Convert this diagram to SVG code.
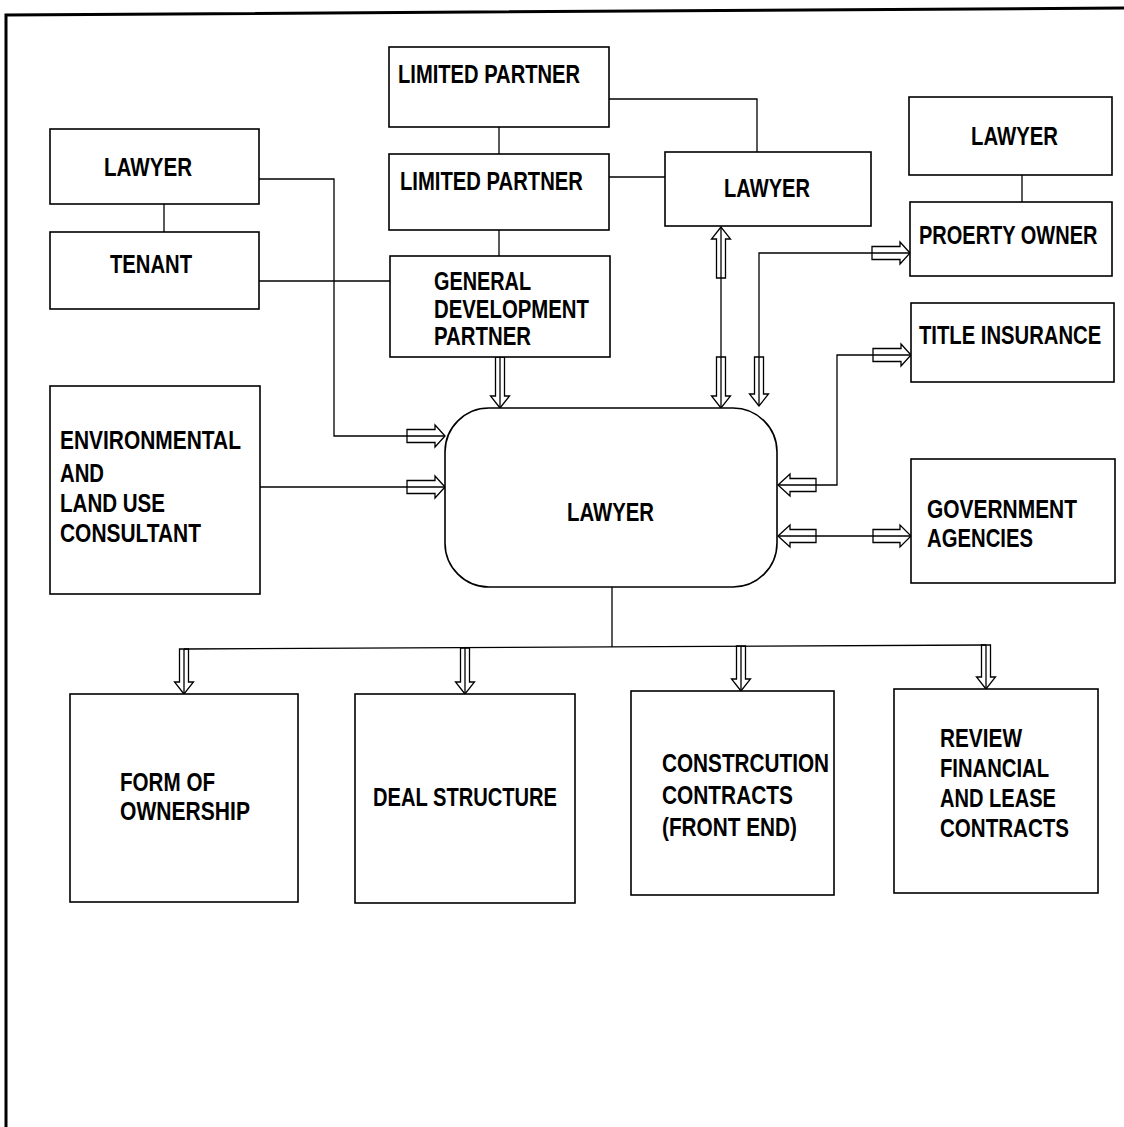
<svg xmlns="http://www.w3.org/2000/svg" width="1124" height="1127" viewBox="0 0 1124 1127">
<style>
.box{fill:#fff;stroke:#000;stroke-width:1.6}
.ln{fill:none;stroke:#000;stroke-width:1.3}
.ar{fill:none;stroke:#000;stroke-width:1.3;stroke-linejoin:miter}
.t{font-family:"Liberation Sans Narrow","Liberation Sans",Arial,sans-serif;font-weight:700;font-size:25px;fill:#000}
</style>
<rect width="1124" height="1127" fill="#fff"/>
<path d="M6,1127 L6,15 L1124,8" fill="none" stroke="#000" stroke-width="3"/>

<g id="connectors">
<path class="ln" d="M499,127 V154"/>
<path class="ln" d="M499,230 V256"/>
<path class="ln" d="M609,99 H757 V152"/>
<path class="ln" d="M609,177 H665"/>
<path class="ln" d="M164,204 V232"/>
<path class="ln" d="M259,179 H334 V436 H445"/>
<path class="ln" d="M259,281 H390"/>
<path class="ln" d="M259,487 H445"/>
<path class="ln" d="M721,227 V408"/>
<path class="ln" d="M910,253 H759 V406"/>
<path class="ln" d="M1022,175 V202"/>
<path class="ln" d="M911,355 H837 V485 H778"/>
<path class="ln" d="M778,536 H911"/>
<path class="ln" d="M500,357 V408"/>
<path class="ln" d="M612,587 V647"/>
<path class="ln" d="M184,649 L986,645"/>
<path class="ln" d="M184,649 V694 M465,648 V694 M741,646 V691 M986,645 V689"/>
<polygon class="ar" points="445,436 435,425 435,429.5 407,429.5 407,442.5 435,442.5 435,447"/>
<polygon class="ar" points="445,487 435,476 435,480.5 407,480.5 407,493.5 435,493.5 435,498"/>
<polygon class="ar" points="910,253 900,242 900,246.5 872,246.5 872,259.5 900,259.5 900,264"/>
<polygon class="ar" points="911,355 901,344 901,348.5 873,348.5 873,361.5 901,361.5 901,366"/>
<polygon class="ar" points="778,485 790,474 790,478.5 816,478.5 816,491.5 790,491.5 790,496"/>
<polygon class="ar" points="778,536 790,525 790,529.5 816,529.5 816,542.5 790,542.5 790,547"/>
<polygon class="ar" points="911,536 900,525 900,529.5 873,529.5 873,542.5 900,542.5 900,547"/>
<polygon class="ar" points="500,408 490.5,396 495.5,396 495.5,357 504.5,357 504.5,396 509.5,396"/>
<polygon class="ar" points="721,227 711.5,239 716.5,239 716.5,278 725.5,278 725.5,239 730.5,239"/>
<polygon class="ar" points="721,408 711.5,396 716.5,396 716.5,357 725.5,357 725.5,396 730.5,396"/>
<polygon class="ar" points="759,406 749.5,394 754.5,394 754.5,357 763.5,357 763.5,394 768.5,394"/>
<polygon class="ar" points="184,694 174.5,682 179.5,682 179.5,649 188.5,649 188.5,682 193.5,682"/>
<polygon class="ar" points="465,694 455.5,682 460.5,682 460.5,648 469.5,648 469.5,682 474.5,682"/>
<polygon class="ar" points="741,691 731.5,679 736.5,679 736.5,646 745.5,646 745.5,679 750.5,679"/>
<polygon class="ar" points="986,689 976.5,677 981.5,677 981.5,645 990.5,645 990.5,677 995.5,677"/>
</g>

<g id="limited-partner-1">
<rect class="box" x="389" y="47" width="220" height="80"/>
<text class="t" x="398" y="83" textLength="182" lengthAdjust="spacingAndGlyphs">LIMITED PARTNER</text>
</g>
<g id="limited-partner-2">
<rect class="box" x="389" y="154" width="220" height="76"/>
<text class="t" x="400" y="190" textLength="183" lengthAdjust="spacingAndGlyphs">LIMITED PARTNER</text>
</g>
<g id="lawyer-partners">
<rect class="box" x="665" y="152" width="206" height="74"/>
<text class="t" x="724" y="197" textLength="86" lengthAdjust="spacingAndGlyphs">LAWYER</text>
</g>
<g id="lawyer-tenant">
<rect class="box" x="50" y="129" width="209" height="75"/>
<text class="t" x="104" y="176" textLength="88" lengthAdjust="spacingAndGlyphs">LAWYER</text>
</g>
<g id="tenant">
<rect class="box" x="50" y="232" width="209" height="77"/>
<text class="t" x="110" y="273" textLength="82" lengthAdjust="spacingAndGlyphs">TENANT</text>
</g>
<g id="general-development-partner">
<rect class="box" x="390" y="256" width="220" height="101"/>
<text class="t" x="434" y="290" textLength="97" lengthAdjust="spacingAndGlyphs">GENERAL</text>
<text class="t" x="434" y="318" textLength="155" lengthAdjust="spacingAndGlyphs">DEVELOPMENT</text>
<text class="t" x="434" y="345" textLength="97" lengthAdjust="spacingAndGlyphs">PARTNER</text>
</g>
<g id="environmental-consultant">
<rect class="box" x="50" y="386" width="210" height="208"/>
<text class="t" x="60" y="449" textLength="181" lengthAdjust="spacingAndGlyphs">ENVIRONMENTAL</text>
<text class="t" x="60" y="482" textLength="44" lengthAdjust="spacingAndGlyphs">AND</text>
<text class="t" x="60" y="512" textLength="105" lengthAdjust="spacingAndGlyphs">LAND USE</text>
<text class="t" x="60" y="542" textLength="141" lengthAdjust="spacingAndGlyphs">CONSULTANT</text>
</g>
<g id="lawyer-center">
<rect class="box" x="445" y="408" width="332" height="179" rx="44" ry="44"/>
<text class="t" x="567" y="521" textLength="87" lengthAdjust="spacingAndGlyphs">LAWYER</text>
</g>
<g id="lawyer-owner">
<rect class="box" x="909" y="97" width="203" height="78"/>
<text class="t" x="971" y="145" textLength="87" lengthAdjust="spacingAndGlyphs">LAWYER</text>
</g>
<g id="property-owner">
<rect class="box" x="910" y="202" width="202" height="74"/>
<text class="t" transform="translate(919,244) scale(0.8,1)">PROERTY OWNER</text>
</g>
<g id="title-insurance">
<rect class="box" x="911" y="303" width="203" height="79"/>
<text class="t" transform="translate(919,344) scale(0.81,1)">TITLE INSURANCE</text>
</g>
<g id="government-agencies">
<rect class="box" x="911" y="459" width="204" height="124"/>
<text class="t" x="927" y="518" textLength="150" lengthAdjust="spacingAndGlyphs">GOVERNMENT</text>
<text class="t" x="927" y="547" textLength="106" lengthAdjust="spacingAndGlyphs">AGENCIES</text>
</g>
<g id="form-of-ownership">
<rect class="box" x="70" y="694" width="228" height="208"/>
<text class="t" x="120" y="791" textLength="95" lengthAdjust="spacingAndGlyphs">FORM OF</text>
<text class="t" x="120" y="820" textLength="130" lengthAdjust="spacingAndGlyphs">OWNERSHIP</text>
</g>
<g id="deal-structure">
<rect class="box" x="355" y="694" width="220" height="209"/>
<text class="t" x="373" y="806" textLength="184" lengthAdjust="spacingAndGlyphs">DEAL STRUCTURE</text>
</g>
<g id="construction-contracts">
<rect class="box" x="631" y="691" width="203" height="204"/>
<text class="t" x="662" y="772" textLength="167" lengthAdjust="spacingAndGlyphs">CONSTRCUTION</text>
<text class="t" x="662" y="804" textLength="131" lengthAdjust="spacingAndGlyphs">CONTRACTS</text>
<text class="t" x="662" y="836" textLength="135" lengthAdjust="spacingAndGlyphs">(FRONT END)</text>
</g>
<g id="review-contracts">
<rect class="box" x="894" y="689" width="204" height="204"/>
<text class="t" x="940" y="747" textLength="82" lengthAdjust="spacingAndGlyphs">REVIEW</text>
<text class="t" x="940" y="777" textLength="109" lengthAdjust="spacingAndGlyphs">FINANCIAL</text>
<text class="t" x="940" y="807" textLength="116" lengthAdjust="spacingAndGlyphs">AND LEASE</text>
<text class="t" x="940" y="837" textLength="129" lengthAdjust="spacingAndGlyphs">CONTRACTS</text>
</g>
</svg>
